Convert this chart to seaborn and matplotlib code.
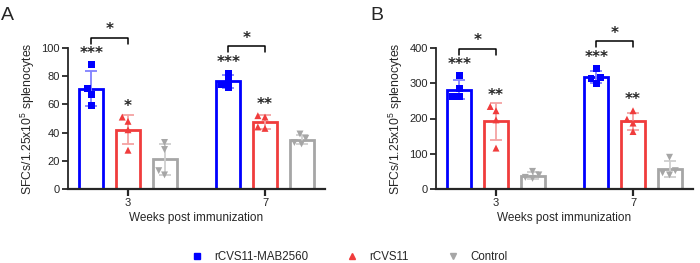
import numpy as np
import pandas as pd
import matplotlib.pyplot as plt
import seaborn as sns
from matplotlib.lines import Line2D

# ---- data (4 mice per group) ----
weeks = ['3', '7']
groups = ['rCVS11-MAB2560', 'rCVS11', 'Control']

# Panel A
a_mab_w3 = [88, 71, 67, 59]
a_mab_w7 = [82, 77, 74, 72]
a_wt_w3 = [51, 48, 42, 27.5]
a_wt_w7 = [52, 51, 44, 43]
a_ctl_w3 = [33, 28, 13, 10]
a_ctl_w7 = [39, 36, 33, 32]

# Panel B
b_mab_w3 = [321, 284, 262, 262]
b_mab_w7 = [343, 316, 313, 300]
b_wt_w3 = [234, 222, 196, 116]
b_wt_w7 = [222, 198, 187, 163]
b_ctl_w3 = [50, 40, 33, 30]
b_ctl_w7 = [90, 52, 46, 40]

# significance marks
stars_a = {('3', 'rCVS11-MAB2560'): '***', ('3', 'rCVS11'): '*',
           ('7', 'rCVS11-MAB2560'): '***', ('7', 'rCVS11'): '**'}
stars_b = {('3', 'rCVS11-MAB2560'): '***', ('3', 'rCVS11'): '**',
           ('7', 'rCVS11-MAB2560'): '***', ('7', 'rCVS11'): '**'}
bracket_marks = {'3': '*', '7': '*'}

colors = ['#0000FF', '#F03C3C', '#A6A6A6']
light = ['#8080FF', '#F5A3A3', '#CFCFCF']
markers = ['s', '^', 'v']


def long_table(d):
    rows = []
    for (w, g), vals in d.items():
        for v in vals:
            rows.append({'week': w, 'group': g, 'value': v})
    return pd.DataFrame(rows)


df_a = long_table({('3', groups[0]): a_mab_w3, ('7', groups[0]): a_mab_w7,
                   ('3', groups[1]): a_wt_w3, ('7', groups[1]): a_wt_w7,
                   ('3', groups[2]): a_ctl_w3, ('7', groups[2]): a_ctl_w7})
df_b = long_table({('3', groups[0]): b_mab_w3, ('7', groups[0]): b_mab_w7,
                   ('3', groups[1]): b_wt_w3, ('7', groups[1]): b_wt_w7,
                   ('3', groups[2]): b_ctl_w3, ('7', groups[2]): b_ctl_w7})

sns.set_style('ticks')
plt.rcParams['font.family'] = ['Liberation Sans', 'DejaVu Sans']
plt.rcParams['mathtext.default'] = 'regular'

fig = plt.figure(figsize=(7, 2.63), dpi=100)
ax_a = fig.add_axes([68 / 700, 74 / 263, 257 / 700, 141 / 263])
ax_b = fig.add_axes([436 / 700, 74 / 263, 257 / 700, 141 / 263])


def px(ax, n):
    lo, hi = ax.get_ylim()
    return n * (hi - lo) / ax.bbox.height


def panel(ax, df, ymax, ystep, stars):
    sns.barplot(data=df, x='week', y='value', hue='group', order=weeks,
                hue_order=groups, palette=colors, fill=False, errorbar=None,
                width=0.8, gap=0.344, linewidth=2, legend=False, ax=ax)
    ax.set_ylim(0, ymax)
    ax.set_xlim(-0.438, 1.438)

    # bar centres, read back from the drawn patches
    bars = sorted(ax.patches, key=lambda p: p.get_x())
    keys = [(w, g) for w in weeks for g in groups]
    centers = {k: b.get_x() + b.get_width() / 2 for k, b in zip(keys, bars)}

    stats = df.groupby(['week', 'group'])['value'].agg(['mean', 'std', 'max'])
    for (w, g), x in centers.items():
        i = groups.index(g)
        m, s, top = stats.loc[(w, g)]
        ax.errorbar(x, m, yerr=s, color=light[i], capsize=4.5, elinewidth=1.3,
                    capthick=1.3, zorder=3)
        if (w, g) in stars:
            ax.text(x, top + px(ax, 11), stars[(w, g)], ha='center', va='center',
                    fontsize=11, fontweight='bold', family='DejaVu Sans')

    for i, g in enumerate(groups):
        sub = df[df['group'] == g]
        sns.swarmplot(data=sub, x='week', y='value', hue='group', order=weeks,
                      hue_order=groups, palette=colors, dodge=True, size=5,
                      marker=markers[i], linewidth=0, legend=False, zorder=4, ax=ax)
    ax.set_xlim(-0.438, 1.438)

    # brackets between vaccine groups
    for w in weeks:
        x0 = centers[(w, groups[0])]
        x1 = centers[(w, groups[1])]
        yb = stats.loc[(w, groups[0]), 'max'] + px(ax, 27)
        drop = px(ax, 6)
        ax.plot([x0, x0, x1, x1], [yb - drop, yb, yb, yb - drop], color='black',
                lw=1.1, clip_on=False)
        ax.text((x0 + x1) / 2, yb + px(ax, 8), bracket_marks[w], ha='center',
                va='center', fontsize=11, fontweight='bold', family='DejaVu Sans')

    ax.set_yticks(np.arange(0, ymax + 1, ystep))
    sns.despine(ax=ax)
    ax.spines['left'].set_linewidth(1.3)
    ax.spines['bottom'].set_linewidth(1.6)
    ax.tick_params(axis='y', length=4, width=1.3, labelsize=8, pad=2)
    ax.tick_params(axis='x', length=5, width=1.6, labelsize=8, pad=1.5)
    ax.set_xlabel('Weeks post immunization', fontsize=8.5, labelpad=2.5)
    ax.set_ylabel('SFCs/1.25x10$^5$ splenocytes', fontsize=8.8, labelpad=3)


panel(ax_a, df_a, 100, 20, stars_a)
panel(ax_b, df_b, 400, 100, stars_b)

fig.text(0.002, 0.975, 'A', fontsize=14, va='top')
fig.text(370 / 700, 0.975, 'B', fontsize=14, va='top')

handles = [Line2D([], [], ls='none', marker=markers[i], color=colors[i],
                  markersize=4.5, label=g) for i, g in enumerate(groups)]
fig.legend(handles=handles, loc='center', bbox_to_anchor=(0.5, 0.022), ncol=3,
           frameon=False, fontsize=8.3, handlelength=0.8, handletextpad=1.1,
           columnspacing=3.4)

fig.savefig('out.png', dpi=100)
